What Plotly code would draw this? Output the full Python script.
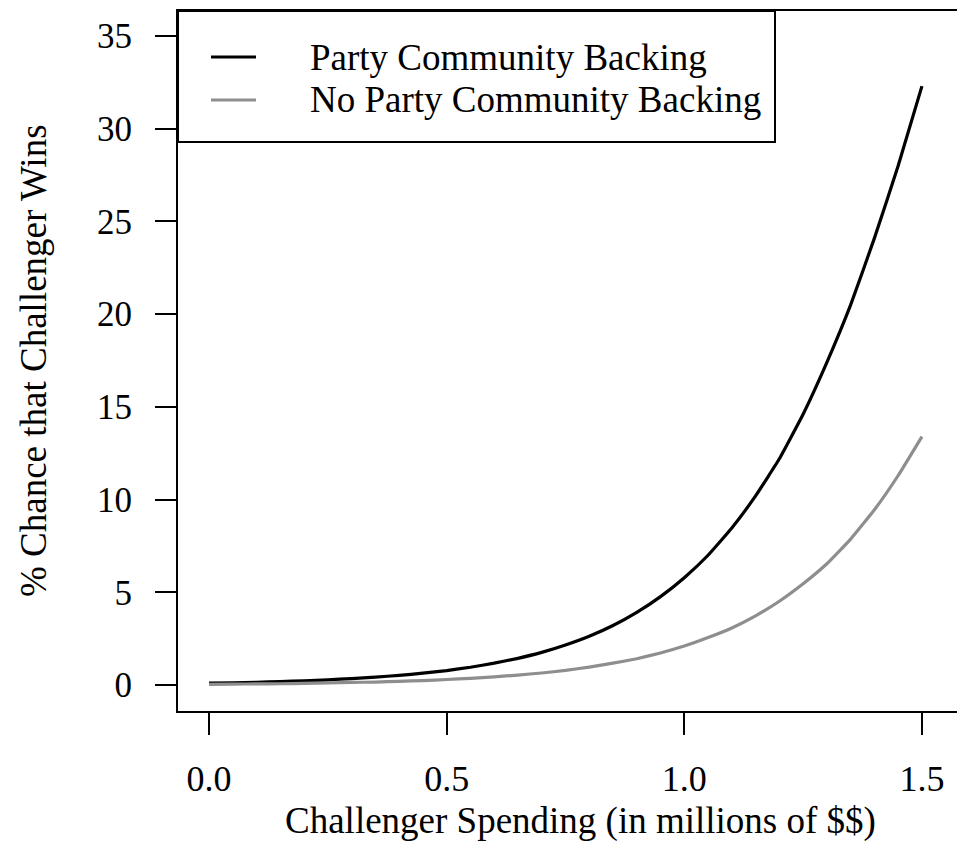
import plotly.graph_objects as go

# Data
spending = [0.0, 0.05, 0.1, 0.15, 0.2, 0.25, 0.3, 0.35, 0.4, 0.45, 0.5, 0.55, 0.6, 0.65, 0.7, 0.75,
            0.8, 0.85, 0.9, 0.95, 1.0, 1.05, 1.1, 1.15, 1.2, 1.25, 1.3, 1.35, 1.4, 1.45, 1.5]
party_backing = [0.10, 0.12, 0.15, 0.19, 0.23, 0.28, 0.35, 0.43, 0.52, 0.64, 0.78, 0.96, 1.18, 1.44, 1.76, 2.16,
                 2.63, 3.21, 3.92, 4.77, 5.79, 7.0, 8.47, 10.2, 12.2, 14.6, 17.4, 20.5, 24.1, 28.0, 32.3]
no_party_backing = [0.04, 0.05, 0.06, 0.07, 0.09, 0.11, 0.14, 0.16, 0.20, 0.24, 0.30, 0.36, 0.44, 0.54, 0.65, 0.79,
                    0.97, 1.18, 1.42, 1.73, 2.10, 2.56, 3.08, 3.73, 4.52, 5.46, 6.54, 7.87, 9.45, 11.3, 13.4]

series_names = ["Party Community Backing", "No Party Community Backing"]
series_colors = ["#000000", "#8e8e8e"]

x_ticks = [0.0, 0.5, 1.0, 1.5]
y_ticks = [0, 5, 10, 15, 20, 25, 30, 35]

FONT = "Liberation Serif, Times New Roman, serif"

fig = go.Figure()
for name, vals, col in zip(series_names, [party_backing, no_party_backing], series_colors):
    fig.add_trace(go.Scatter(
        x=spending, y=vals, mode="lines", name=name,
        line=dict(color=col, width=3.2, shape="spline", smoothing=0.35),
        showlegend=False,
    ))

# Page pixel geometry of the plot box (page has an 8px body margin)
OFF = 8
L = 178.0
W = 787.0
T = 11.0
H = 700.0

def px_x(p):
    return (p - L) / W

def px_y(p):
    return (T + H - p) / H

shapes = [
    dict(type="rect", xref="paper", yref="paper",
         x0=0.0, x1=px_x(775), y0=px_y(142), y1=1.0,
         line=dict(color="black", width=2), fillcolor="white", layer="above"),
]
annotations = []
for i, (name, col) in enumerate(zip(series_names, series_colors)):
    yy = px_y(57 + 43 * i)
    shapes.append(dict(type="line", xref="paper", yref="paper",
                       x0=px_x(211), x1=px_x(256), y0=yy, y1=yy,
                       line=dict(color=col, width=3.2), layer="above"))
    annotations.append(dict(xref="paper", yref="paper", x=px_x(308), y=yy,
                            xanchor="left", yanchor="middle", text=name,
                            showarrow=False,
                            font=dict(family=FONT, size=37, color="black")))

# Axis titles
annotations.append(dict(xref="paper", yref="paper", x=px_x(580), y=px_y(821),
                        xanchor="center", yanchor="middle",
                        text="Challenger Spending (in millions of $$)",
                        showarrow=False, font=dict(family=FONT, size=37, color="black")))
annotations.append(dict(xref="paper", yref="paper", x=px_x(33), y=0.5,
                        xanchor="center", yanchor="middle", textangle=-90,
                        text="% Chance that Challenger Wins",
                        showarrow=False, font=dict(family=FONT, size=37, color="black")))

fig.update_layout(
    width=965 - OFF, height=841 - OFF,
    margin=dict(l=int(L - OFF), r=0, t=int(T - OFF), b=int(841 - (T + H))),
    paper_bgcolor="white", plot_bgcolor="white",
    font=dict(family=FONT, size=36, color="black"),
    shapes=shapes, annotations=annotations,
    showlegend=False,
)
fig.update_layout(margin_autoexpand=False)
fig.update_xaxes(
    range=[-0.0652, 1.5906], tickvals=x_ticks, ticktext=[f"{v:.1f}" for v in x_ticks],
    showline=True, linecolor="black", linewidth=2, mirror=True,
    ticks="outside", ticklen=22, tickwidth=2, tickcolor="black",
    showgrid=False, zeroline=False, ticklabelstandoff=13,
    tickfont=dict(family=FONT, size=36, color="black"),
)
fig.update_yaxes(
    range=[-1.40, 36.35], tickvals=y_ticks, ticktext=[str(v) for v in y_ticks],
    showline=True, linecolor="black", linewidth=2, mirror=False,
    ticks="outside", ticklen=21, tickwidth=2, tickcolor="black",
    showgrid=False, zeroline=False, ticklabelstandoff=16,
    tickfont=dict(family=FONT, size=35, color="black"),
)

fig.write_html("out.html")
